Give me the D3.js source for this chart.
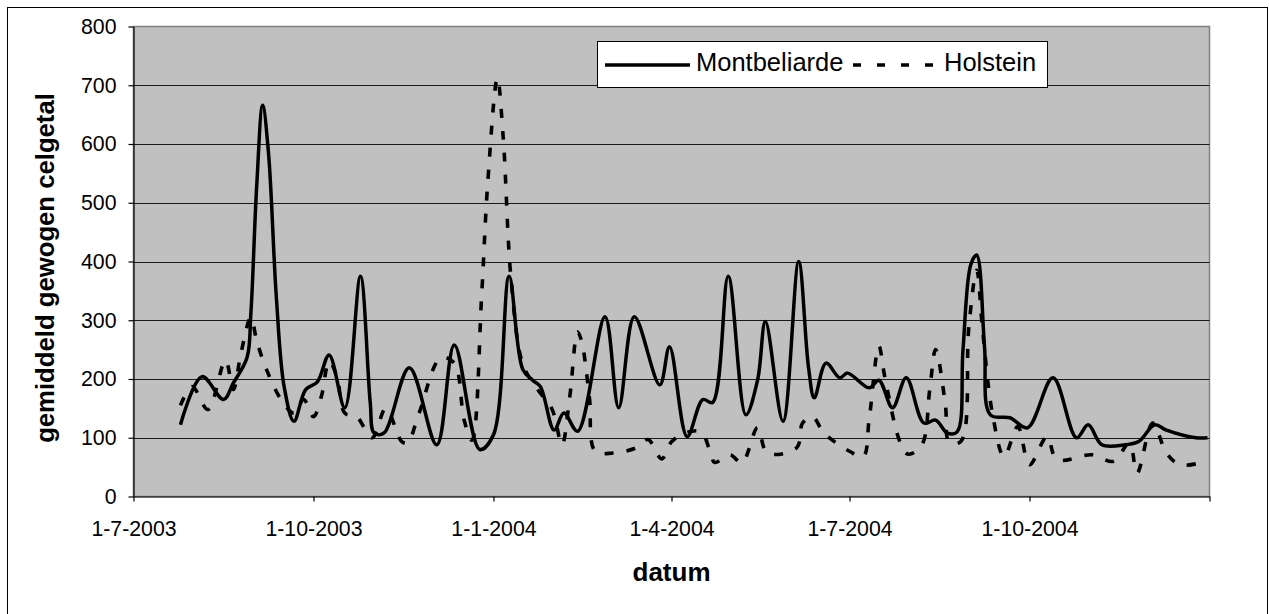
<!DOCTYPE html>
<html>
<head>
<meta charset="utf-8">
<script src="https://cdn.jsdelivr.net/npm/d3@7/dist/d3.min.js"></script>
<style>
  html, body { margin: 0; padding: 0; background: #fff; }
  svg { display: block; font-family: "Liberation Sans", Arial, sans-serif; }
</style>
</head>
<body>
<svg id="chart" width="1269" height="614"></svg>
<script>
// Gemiddeld gewogen celgetal per ras
const montDates = [
  "2003-07-25","2003-08-05","2003-08-16","2003-08-21","2003-08-28","2003-08-30","2003-09-02","2003-09-05",
  "2003-09-08","2003-09-12","2003-09-16","2003-09-21","2003-09-27","2003-10-03","2003-10-09","2003-10-17",
  "2003-10-25","2003-10-30","2003-11-01","2003-11-06","2003-11-19","2003-12-03","2003-12-12","2003-12-25",
  "2004-01-01","2004-01-09","2004-01-16","2004-01-21","2004-01-25","2004-02-01","2004-02-06","2004-02-13",
  "2004-02-27","2004-03-05","2004-03-13","2004-03-26","2004-03-31","2004-04-09","2004-04-17","2004-04-22",
  "2004-04-30","2004-05-09","2004-05-15","2004-05-19","2004-05-28","2004-06-05","2004-06-10","2004-06-13",
  "2004-06-19","2004-06-26","2004-06-30","2004-07-11","2004-07-16","2004-07-23","2004-07-30","2004-08-08",
  "2004-08-14","2004-08-20","2004-08-25","2004-08-28","2004-09-01","2004-09-04","2004-09-08","2004-09-11",
  "2004-09-21","2004-09-30","2004-10-13","2004-10-25","2004-10-31","2004-11-07","2004-11-19","2004-11-26",
  "2004-12-04","2004-12-10","2004-12-25","2004-12-31"
];
const montValues = [
  122, 204, 165, 193, 236, 312, 530, 666,
  585, 340, 187, 128, 182, 195, 241, 151,
  375, 160, 108, 108, 219, 88, 258, 80,
  105, 375, 216, 198, 187, 113, 142, 111,
  306, 151, 306, 190, 255, 102, 165, 160,
  375, 139, 198, 298, 128, 400, 221, 168,
  227, 202, 210, 185, 198, 151, 202, 125,
  130, 108, 110, 250, 395, 411, 255, 139,
  134, 117, 202, 100, 122, 88, 88, 94,
  122, 113, 100, 100
];

const holDates = [
  "2003-07-25","2003-07-31","2003-08-08","2003-08-17","2003-08-21","2003-08-25","2003-08-30","2003-09-02",
  "2003-09-07","2003-09-15","2003-09-21","2003-09-26","2003-10-01","2003-10-05","2003-10-09","2003-10-13",
  "2003-10-17","2003-10-23","2003-10-31","2003-11-07","2003-11-15","2003-11-18","2003-11-24","2003-12-05",
  "2003-12-12","2003-12-17","2003-12-21","2003-12-26","2003-12-29","2004-01-03","2004-01-06","2004-01-10",
  "2004-01-16","2004-01-23","2004-01-31","2004-02-05","2004-02-09","2004-02-13","2004-02-15","2004-02-19",
  "2004-02-22","2004-03-02","2004-03-14","2004-03-20","2004-03-27","2004-04-01","2004-04-08","2004-04-16",
  "2004-04-21","2004-04-23","2004-05-01","2004-05-07","2004-05-15","2004-05-20","2004-06-04","2004-06-07",
  "2004-06-12","2004-06-18","2004-07-01","2004-07-08","2004-07-11","2004-07-16","2004-07-19","2004-07-27",
  "2004-07-31","2004-08-07","2004-08-11","2004-08-14","2004-08-19","2004-08-21","2004-08-27","2004-08-31",
  "2004-09-04","2004-09-07","2004-09-12","2004-09-18","2004-09-25","2004-10-01","2004-10-10","2004-10-15",
  "2004-11-02","2004-11-13","2004-11-21","2004-11-25","2004-12-03","2004-12-10","2004-12-17","2004-12-27"
];
const holValues = [
  155, 187, 148, 232, 182, 245, 305, 265,
  216, 162, 142, 165, 136, 170, 230, 204,
  142, 136, 100, 150, 94, 91, 142, 236,
  227, 130, 96, 345, 530, 712, 610, 370,
  225, 185, 148, 88, 170, 280, 265, 170,
  77, 74, 83, 97, 64, 93, 108, 110,
  74, 58, 71, 57, 117, 74, 83, 125,
  136, 108, 77, 68, 130, 256, 204, 91,
  72, 88, 182, 250, 156, 92, 94, 289,
  385, 284, 142, 68, 119, 54, 102, 63,
  71, 60, 91, 40, 125, 74, 54, 57
];

const seriesNames = ["Montbeliarde", "Holstein"];
const xTickDates = ["2003-07-01","2003-10-01","2004-01-01","2004-04-01","2004-07-01","2004-10-01","2005-01-01"];
const xTickLabels = ["1-7-2003","1-10-2003","1-1-2004","1-4-2004","1-7-2004","1-10-2004",""];
const yTicks = [0, 100, 200, 300, 400, 500, 600, 700, 800];
const xTitle = "datum";
const yTitle = "gemiddeld gewogen celgetal";

const parse = d3.utcParse("%Y-%m-%d");
const mont = montDates.map((d, i) => ({ date: parse(d), value: montValues[i] }));
const hol = holDates.map((d, i) => ({ date: parse(d), value: holValues[i] }));
const tickDates = xTickDates.map(parse);

const svg = d3.select("#chart");
const plot = { left: 133.5, right: 1209.5, top: 26.5, bottom: 496.5 };

const x = d3.scaleUtc()
  .domain([tickDates[0], tickDates[tickDates.length - 1]])
  .range([plot.left, plot.right]);
const y = d3.scaleLinear()
  .domain([0, 800])
  .range([plot.bottom, plot.top]);

// outer frame
svg.append("rect")
  .attr("x", 7.5).attr("y", 7.5)
  .attr("width", 1260).attr("height", 620)
  .attr("fill", "#fff").attr("stroke", "#000").attr("stroke-width", 1);

// plot area
svg.append("rect")
  .attr("x", plot.left).attr("y", plot.top)
  .attr("width", plot.right - plot.left).attr("height", plot.bottom - plot.top)
  .attr("fill", "#c0c0c0").attr("stroke", "#808080").attr("stroke-width", 1.5);

// horizontal gridlines
svg.append("g")
  .selectAll("line")
  .data(yTicks.filter(v => v > 0 && v < 800))
  .join("line")
  .attr("x1", plot.left).attr("x2", plot.right)
  .attr("y1", d => Math.round(y(d)) + 0.5).attr("y2", d => Math.round(y(d)) + 0.5)
  .attr("stroke", "#1a1a1a").attr("stroke-width", 1);

// axes
const yAxis = svg.append("g")
  .attr("transform", `translate(${plot.left},0)`)
  .call(d3.axisLeft(y).tickValues(yTicks).tickSize(5).tickPadding(12).tickSizeOuter(0));
const xAxis = svg.append("g")
  .attr("transform", `translate(0,${plot.bottom})`)
  .call(d3.axisBottom(x).tickValues(tickDates)
    .tickFormat((d, i) => xTickLabels[i]).tickSize(5).tickPadding(19).tickSizeOuter(0));

[xAxis, yAxis].forEach(g => {
  g.select(".domain").attr("stroke", "#000").attr("stroke-width", 1.2);
  g.selectAll(".tick line").attr("stroke", "#000").attr("stroke-width", 1.2);
  g.selectAll(".tick text")
    .attr("fill", "#000")
    .style("font-size", "21.3px")
    .style("font-family", '"Liberation Sans", Arial, sans-serif');
});

// series lines
const line = d3.line()
  .x(d => x(d.date))
  .y(d => y(d.value))
  .curve(d3.curveCatmullRom.alpha(0.5));

svg.append("path")
  .datum(hol)
  .attr("d", line)
  .attr("fill", "none")
  .attr("stroke", "#000")
  .attr("stroke-width", 3.6)
  .attr("stroke-dasharray", "9,13");

svg.append("path")
  .datum(mont)
  .attr("d", line)
  .attr("fill", "none")
  .attr("stroke", "#000")
  .attr("stroke-width", 3.5)
  .attr("stroke-linejoin", "round");

// legend
const legend = svg.append("g");
legend.append("rect")
  .attr("x", 597.5).attr("y", 41.5).attr("width", 450).attr("height", 46)
  .attr("fill", "#fff").attr("stroke", "#000").attr("stroke-width", 1);
legend.append("line")
  .attr("x1", 605).attr("x2", 690).attr("y1", 65).attr("y2", 65)
  .attr("stroke", "#000").attr("stroke-width", 3.5);
legend.append("text")
  .attr("x", 696).attr("y", 70.5)
  .style("font-size", "25.5px")
  .text(seriesNames[0]);
legend.append("line")
  .attr("x1", 853).attr("x2", 935).attr("y1", 65).attr("y2", 65)
  .attr("stroke", "#000").attr("stroke-width", 3.6)
  .attr("stroke-dasharray", "8,16");
legend.append("text")
  .attr("x", 944).attr("y", 70.5)
  .style("font-size", "25.5px")
  .text(seriesNames[1]);

// axis titles
svg.append("text")
  .attr("x", (plot.left + plot.right) / 2).attr("y", 581)
  .attr("text-anchor", "middle")
  .style("font-size", "26px").style("font-weight", "bold")
  .text(xTitle);
svg.append("text")
  .attr("transform", `translate(54,${268}) rotate(-90)`)
  .attr("text-anchor", "middle")
  .style("font-size", "25.7px").style("font-weight", "bold")
  .text(yTitle);
</script>
</body>
</html>
